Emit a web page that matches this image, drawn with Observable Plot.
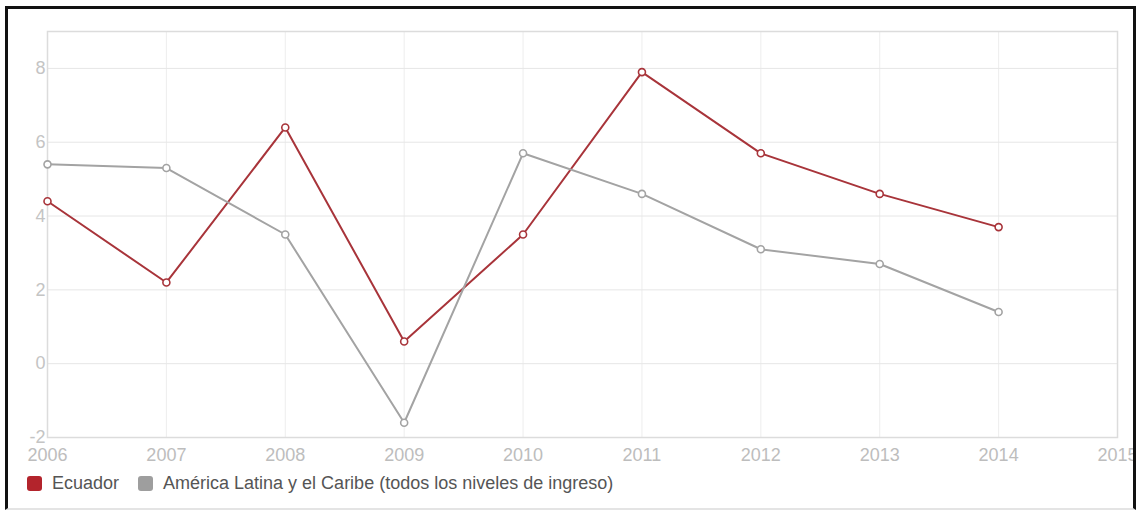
<!DOCTYPE html>
<html>
<head>
<meta charset="utf-8">
<script src="https://cdn.jsdelivr.net/npm/d3@7"></script>
<script src="https://cdn.jsdelivr.net/npm/@observablehq/plot@0.6"></script>
<style>
  html, body { margin: 0; padding: 0; background: #fff; }
  body { width: 1136px; height: 512px; position: relative; overflow: hidden; font-family: "Liberation Sans", Arial, sans-serif; }
  #frame {
    position: absolute; left: 5px; top: 6px; width: 1125px; height: 499px;
    border-left: 3px solid #111; border-top: 3px solid #111; border-right: 3px solid #111;
    border-bottom: 2px solid #e4e4e4;
    overflow: hidden; background: #fff;
  }
  #legend { display: flex; align-items: center; height: 24px; padding-left: 19px; font-size: 18px; color: #555; }
  .item { display: flex; align-items: center; margin-right: 19px; }
  .sw { width: 15px; height: 15px; border-radius: 3px; margin-right: 10px; }
</style>
</head>
<body>
<div id="frame"><div id="chart"></div><div id="legend"></div></div>
<script>
const years = [2006, 2007, 2008, 2009, 2010, 2011, 2012, 2013, 2014];
const ecuador = [4.4, 2.2, 6.4, 0.6, 3.5, 7.9, 5.7, 4.6, 3.7];
const latam = [5.4, 5.3, 3.5, -1.6, 5.7, 4.6, 3.1, 2.7, 1.4];
const seriesNames = ["Ecuador", "América Latina y el Caribe (todos los niveles de ingreso)"];
const seriesColors = ["#a8343a", "#a3a3a3"];
const swatchColors = ["#b3242c", "#9e9e9e"];
const xTicks = [2006, 2007, 2008, 2009, 2010, 2011, 2012, 2013, 2014, 2015];
const yTicks = [-2, 0, 2, 4, 6, 8];

const data = [];
years.forEach((y, i) => data.push({year: y, value: ecuador[i], series: seriesNames[0]}));
years.forEach((y, i) => data.push({year: y, value: latam[i], series: seriesNames[1]}));

const chart = Plot.plot({
  width: 1125,
  height: 462,
  marginLeft: 39,
  marginRight: 16,
  marginTop: 22,
  marginBottom: 34,
  style: {fontFamily: "Liberation Sans, Arial, sans-serif", fontSize: "18px", background: "#fff", overflow: "visible"},
  x: {domain: [2006, 2015]},
  y: {domain: [-2, 9]},
  color: {domain: seriesNames, range: seriesColors},
  marks: [
    Plot.gridX(xTicks, {stroke: "#ededed", strokeOpacity: 1, strokeWidth: 1}),
    Plot.gridY(yTicks, {stroke: "#e6e6e6", strokeOpacity: 1, strokeWidth: 1}),
    Plot.frame({stroke: "#dcdcdc", strokeWidth: 1.5}),
    Plot.axisX(xTicks, {tickFormat: d => String(d), tickSize: 0, tickPadding: 11, fill: "#bdbdbd", fontSize: 18, label: null}),
    Plot.axisY(yTicks, {tickFormat: d => String(d), tickSize: 0, tickPadding: 2, fill: "#c4c4c4", fontSize: 18, label: null}),
    Plot.line(data, {x: "year", y: "value", z: "series", stroke: "series", strokeWidth: 2}),
    Plot.dot(data, {x: "year", y: "value", stroke: "series", fill: "#fff", r: 3.5, strokeWidth: 1.6})
  ]
});
document.getElementById("chart").appendChild(chart);

const legend = document.getElementById("legend");
seriesNames.forEach((name, i) => {
  const item = document.createElement("div");
  item.className = "item";
  const sw = document.createElement("div");
  sw.className = "sw";
  sw.style.background = swatchColors[i];
  const t = document.createElement("span");
  t.textContent = name;
  item.appendChild(sw);
  item.appendChild(t);
  legend.appendChild(item);
});
</script>
</body>
</html>
